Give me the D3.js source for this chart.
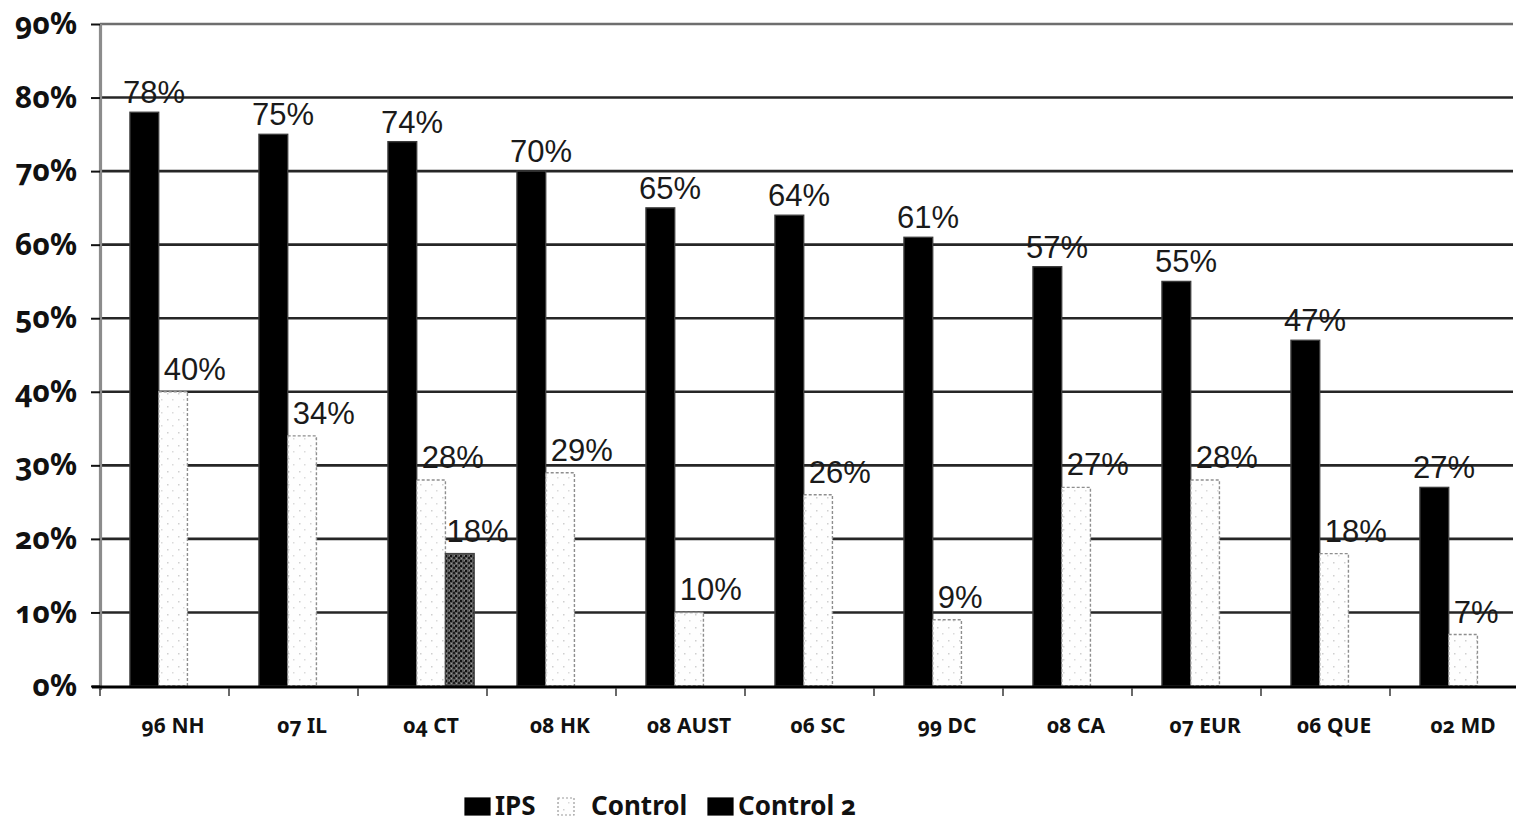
<!DOCTYPE html>
<html>
<head>
<meta charset="utf-8">
<script src="https://cdn.jsdelivr.net/npm/d3@7"></script>
<style>
  html, body { margin: 0; padding: 0; background: #fff; }
  svg { display: block; }
  .tick-label { font-family: "Noto Sans", sans-serif; font-weight: 700; font-variant-numeric: oldstyle-nums; font-feature-settings: "onum" 1; }
  .value-label { font-family: "Liberation Sans", Arial, sans-serif; font-weight: 400; }
</style>
</head>
<body>
<svg id="chart" width="1516" height="827"></svg>
<script>
// Programme sites (year + site code)
const categories = ["96 NH", "07 IL", "04 CT", "08 HK", "08 AUST", "06 SC", "99 DC", "08 CA", "07 EUR", "06 QUE", "02 MD"];
const seriesNames = ["IPS", "Control", "Control 2"];

// Percentages per series (null = no bar at that site)
const ipsValues      = [78, 75, 74, 70, 65, 64, 61, 57, 55, 47, 27];
const controlValues  = [40, 34, 28, 29, 10, 26, 9, 27, 28, 18, 7];
const control2Values = [null, null, 18, null, null, null, null, null, null, null, null];

const yTickValues = [0, 10, 20, 30, 40, 50, 60, 70, 80, 90];

const svg = d3.select("#chart");
const W = 1516, H = 827;
svg.append("rect").attr("width", W).attr("height", H).attr("fill", "#fff");

const plot = { left: 100, right: 1519, top: 24, bottom: 686 };

// Fill textures
const defs = svg.append("defs");
const pCtrl = defs.append("pattern").attr("id", "ctrlFill")
  .attr("patternUnits", "userSpaceOnUse").attr("width", 11).attr("height", 13);
pCtrl.append("rect").attr("width", 11).attr("height", 13).attr("fill", "#fefefe");
pCtrl.append("rect").attr("x", 2).attr("y", 3).attr("width", 1.5).attr("height", 1.5).attr("fill", "#cfcfcf");
pCtrl.append("rect").attr("x", 7).attr("y", 9).attr("width", 1.5).attr("height", 1.5).attr("fill", "#dadada");

const pCtrl2 = defs.append("pattern").attr("id", "ctrl2Fill")
  .attr("patternUnits", "userSpaceOnUse").attr("width", 5).attr("height", 5);
pCtrl2.append("rect").attr("width", 5).attr("height", 5).attr("fill", "#5a5a5a");
pCtrl2.append("rect").attr("x", 0).attr("y", 0).attr("width", 2).attr("height", 2).attr("fill", "#111");
pCtrl2.append("rect").attr("x", 3).attr("y", 2).attr("width", 2).attr("height", 2).attr("fill", "#1e1e1e");
pCtrl2.append("rect").attr("x", 1).attr("y", 3).attr("width", 1).attr("height", 1).attr("fill", "#9a9a9a");
pCtrl2.append("rect").attr("x", 4).attr("y", 0).attr("width", 1).attr("height", 1).attr("fill", "#888");

// Scales
const x0 = d3.scaleBand().domain(categories).range([plot.left, plot.right]).padding(0);
const x1 = d3.scaleBand().domain(seriesNames).range([0, x0.bandwidth()])
  .paddingInner(0).paddingOuter(0.745).align(0.7);
const y = d3.scaleLinear().domain([0, 90]).range([plot.bottom, plot.top]);

// Horizontal gridlines
svg.append("g").selectAll("line")
  .data(yTickValues.filter(v => v > 0))
  .join("line")
  .attr("x1", plot.left).attr("x2", 1513)
  .attr("y1", d => y(d)).attr("y2", d => y(d))
  .attr("stroke", d => d === 90 ? "#6e6e6e" : "#262626")
  .attr("stroke-width", 2.6);

// Y axis
const yAxis = d3.axisLeft(y).tickValues(yTickValues).tickFormat(d => d + "%").tickSize(9).tickPadding(14);
const gy = svg.append("g").attr("transform", `translate(${plot.left},0)`).call(yAxis);
gy.select(".domain").attr("stroke", "#8c8c8c").attr("stroke-width", 3.2)
  .attr("d", `M0.5,${plot.top}V${plot.bottom + 4}`);
gy.selectAll(".tick line").attr("stroke", "#111").attr("stroke-width", 2);
gy.selectAll(".tick text").attr("class", "tick-label").attr("font-size", 30).attr("fill", "#111");

// Bars
const seriesData = [
  { name: "IPS", values: ipsValues, fill: "#000", stroke: "#3a3a3a", dash: null },
  { name: "Control", values: controlValues, fill: "url(#ctrlFill)", stroke: "#8e8e8e", dash: "3 2" },
  { name: "Control 2", values: control2Values, fill: "url(#ctrl2Fill)", stroke: "#444", dash: null }
];

const barsData = [];
seriesData.forEach(s => {
  categories.forEach((c, i) => {
    if (s.values[i] != null) barsData.push({ cat: c, series: s.name, value: s.values[i], s });
  });
});

svg.append("g").selectAll("rect")
  .data(barsData)
  .join("rect")
  .attr("x", d => x0(d.cat) + x1(d.series))
  .attr("y", d => y(d.value))
  .attr("width", x1.bandwidth())
  .attr("height", d => y(0) - y(d.value))
  .attr("fill", d => d.s.fill)
  .attr("stroke", d => d.s.stroke)
  .attr("stroke-width", 1.4)
  .attr("stroke-dasharray", d => d.s.dash);

// X axis
svg.append("line")
  .attr("x1", 92).attr("x2", W)
  .attr("y1", plot.bottom + 1).attr("y2", plot.bottom + 1)
  .attr("stroke", "#000").attr("stroke-width", 3);

svg.append("g").selectAll("line")
  .data(categories)
  .join("line")
  .attr("x1", c => x0(c)).attr("x2", c => x0(c))
  .attr("y1", plot.bottom + 2).attr("y2", plot.bottom + 10)
  .attr("stroke", "#444").attr("stroke-width", 1.6);

// Category labels, centred under each bar group
const groupCenter = c => x0(c) + x1("IPS") + x1.bandwidth() * 1.5;
svg.append("g").selectAll("text")
  .data(categories)
  .join("text")
  .attr("class", "tick-label")
  .attr("x", c => groupCenter(c))
  .attr("y", 733)
  .attr("text-anchor", "middle")
  .attr("font-size", 21)
  .attr("fill", "#111")
  .text(c => c);

// Value labels
svg.append("g").selectAll("text")
  .data(barsData)
  .join("text")
  .attr("class", "value-label")
  .attr("x", d => {
    const bx = x0(d.cat) + x1(d.series);
    if (d.series === "IPS") return bx - 7;
    if (d.series === "Control") return bx + 5;
    return bx + 1;
  })
  .attr("y", d => y(d.value) - (d.series === "IPS" ? 9 : 12))
  .attr("text-anchor", "start")
  .attr("font-size", 31)
  .attr("fill", "#1a1a1a")
  .text(d => d.value + "%");

// Legend
const legend = svg.append("g").attr("class", "legend");
const legendItems = [
  { name: "IPS", x: 465, fill: "#000", stroke: "#000", dash: null, w: 25 },
  { name: "Control", x: 558, fill: "url(#ctrlFill)", stroke: "#9a9a9a", dash: "2 2", w: 16 },
  { name: "Control 2", x: 708, fill: "#000", stroke: "#000", dash: null, w: 25 }
];
legendItems.forEach(it => {
  legend.append("rect")
    .attr("x", it.x).attr("y", 798)
    .attr("width", it.w).attr("height", 17)
    .attr("fill", it.fill).attr("stroke", it.stroke)
    .attr("stroke-width", 1.2).attr("stroke-dasharray", it.dash);
  legend.append("text")
    .attr("class", "tick-label")
    .attr("x", it.x + it.w + (it.name === "Control" ? 17 : 5))
    .attr("y", 815)
    .attr("font-size", 26)
    .attr("fill", "#111")
    .text(it.name);
});
</script>
</body>
</html>
